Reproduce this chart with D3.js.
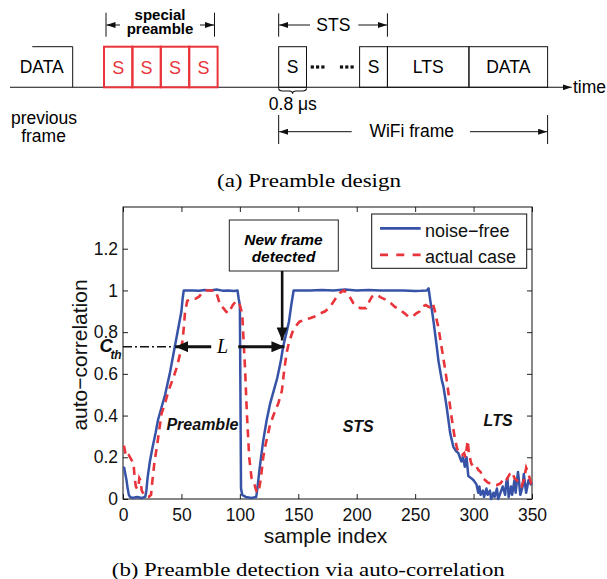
<!DOCTYPE html>
<html>
<head>
<meta charset="utf-8">
<script src="https://cdn.jsdelivr.net/npm/d3@7"></script>
<style>
  body { margin: 0; background: #fff; }
  text { font-family: "Liberation Sans", Arial, Helvetica, sans-serif; }
</style>
</head>
<body>
<div class="chart"></div>
<script>
// ---------------- chart values ----------------
// noise-free curve
var blueX = [0,1,2,3,4,5,6,8,12,16,19,20,21,23,25,28,30,33,36,38,40,42,44,46,48,50,51,52,56,60,65,70,75,80,85,90,95,98,99,100,100.5,101,102,105,110,114,115,117,120,123,126,129,132,135,137,140,142,144,146,150,160,170,180,190,200,210,220,230,240,250,255,260,261.5,263,264.5,266,268.5,270,272.8,274.2,277,280,282.7,285,287,289.5,291,292.5,294,295.5,298,300,302.5,304,305,306,308,309,311,312,314,315,317,318,320,321,323,325,327,328,329,330,332,333,335,336,338,339,340,342,343,345,347,349,350];
var blueY = [0.15,0.15,0.12,0.09,0.05,0.02,0.01,0.005,0.01,0.005,0.01,0.04,0.1,0.18,0.24,0.32,0.38,0.44,0.5,0.55,0.6,0.66,0.72,0.78,0.84,0.9,0.96,1.0,1.0,1.0,0.998,1.002,1.0,1.004,0.999,1.0,0.997,1.0,0.96,0.93,0.5,0.05,0.02,0.01,0.005,0.01,0.05,0.15,0.28,0.38,0.46,0.52,0.58,0.66,0.73,0.8,0.85,0.93,1.0,1.0,1.0,1.002,1.0,1.005,1.0,1.002,1.0,1.0,1.0,0.997,0.998,1.0,1.01,0.95,0.9,0.84,0.73,0.66,0.57,0.54,0.44,0.315,0.25,0.23,0.22,0.18,0.2,0.155,0.2,0.11,0.1,0.09,0.07,0.03,0.06,0.02,0.04,0.01,0.05,0.02,0.04,0.0,0.03,0.01,0.05,0.0,0.03,0.06,0.02,0.08,0.1,0.01,0.06,0.02,0.09,0.03,0.13,0.08,0.02,0.06,0.12,0.03,0.09,0.07,0.08];

// actual case curve
var redX = [0,1,2,3,5,7,9,10,11,12,13,14,15,16,18,20,22,24,25,27,29,31,33,36,39,43,46,49,51,52,53,55,58,62,65,68,71,75,79,81,83,86,88,90,92,94,97,100,102,103,104.5,106,108,110,112,114,116,118,120,122,126,130,133,136,138,140,142,145,148,151,156,160,164,169,173,177,180,183,186,189,193,197,200,203,208,211,213,217,221,225,229,233,237,241,244,248,251,254,257,259,262,265,267,268,270,272,274,276,278,280,282,284,286,288,290,292,293,295,296,298,300,302,304,306,308,310,312,314,317,320,323,325,327,329,331,333,335,337,339,341,343,345,347,349,350];
var redY = [0.25,0.25,0.22,0.2,0.21,0.19,0.17,0.1,0.06,0.05,0.05,0.1,0.09,0.04,0.02,0.01,0.01,0.02,0.08,0.18,0.25,0.33,0.41,0.46,0.52,0.58,0.63,0.7,0.76,0.82,0.89,0.95,0.96,0.96,0.97,0.99,1.0,1.0,1.0,0.97,0.93,0.915,0.9,0.89,0.91,0.93,0.95,0.93,0.89,0.78,0.62,0.41,0.2,0.1,0.08,0.04,0.03,0.1,0.2,0.26,0.36,0.42,0.46,0.52,0.62,0.7,0.75,0.8,0.83,0.85,0.86,0.867,0.875,0.89,0.9,0.92,0.945,0.97,0.99,1.0,0.98,0.94,0.93,0.915,0.915,0.95,0.97,0.98,0.965,0.955,0.94,0.92,0.907,0.89,0.875,0.875,0.89,0.9,0.925,0.93,0.92,0.94,0.9,0.87,0.82,0.75,0.68,0.61,0.53,0.44,0.36,0.29,0.24,0.22,0.21,0.22,0.2,0.28,0.22,0.17,0.155,0.16,0.14,0.13,0.1,0.09,0.08,0.075,0.07,0.067,0.075,0.09,0.08,0.1,0.12,0.13,0.1,0.09,0.07,0.06,0.09,0.15,0.12,0.08,0.09];

var xTicks = [0, 50, 100, 150, 200, 250, 300, 350];
var yTicks = [0, 0.2, 0.4, 0.6, 0.8, 1, 1.2];
var seriesNames = ["noise\u2212free", "actual case"];
var cTh = 0.73;          // detection threshold
var lStart = 44.7, lEnd = 137.3;   // the two threshold crossings (L)

// preamble design (units of one short symbol, 0.8 us)
var preambleSlots = ["S", "S", "S", "S"];
var frameParts = [
  {label: "S",    t0: 6.15,  t1: 7.13},
  {label: "S",    t0: 9.0,   t1: 9.98},
  {label: "LTS",  t0: 9.98,  t1: 12.85},
  {label: "DATA", t0: 12.85, t1: 15.62}
];

var blueCol = "#3653a8", redCol = "#e8343a";

// ---------------- svg ----------------
var svgWidth = 607, svgHeight = 579;
var svg = d3.select(".chart").append("svg")
  .attr("width", svgWidth).attr("height", svgHeight);

var defs = svg.append("defs");
function marker(id, len, wid) {
  defs.append("marker").attr("id", id)
    .attr("markerUnits", "userSpaceOnUse")
    .attr("viewBox", `0 0 ${len} ${wid}`)
    .attr("refX", len).attr("refY", wid / 2)
    .attr("markerWidth", len).attr("markerHeight", wid)
    .attr("orient", "auto-start-reverse")
    .append("path").attr("d", `M0,0 L${len},${wid / 2} L0,${wid} Z`).attr("fill", "#111");
}
marker("ahs", 9, 6);
marker("ahb", 13, 11);

// ================= (a) preamble design =================
var diag = svg.append("g");
var t = d3.scaleLinear().domain([0, 4]).range([104, 217.6]);
var lineY = 87.3, boxTop = 46.7;

// timeline
diag.append("line").attr("x1", 10).attr("x2", 571.7).attr("y1", lineY).attr("y2", lineY)
  .attr("stroke", "#111").attr("stroke-width", 1.1).attr("marker-end", "url(#ahs)");
diag.append("text").attr("x", 573).attr("y", 92.5).attr("font-size", 17.5).text("time");

// previous frame (cut off)
diag.append("path").attr("d", `M32.3,${boxTop} H72.7 V${lineY}`).attr("fill", "none").attr("stroke", "#111");
diag.append("text").attr("x", 41.7).attr("y", 72.7).attr("text-anchor", "middle").attr("font-size", 17.5).text("DATA");
diag.append("text").attr("x", 44).attr("y", 124).attr("text-anchor", "middle").attr("font-size", 17.5).text("previous");
diag.append("text").attr("x", 43.5).attr("y", 141.7).attr("text-anchor", "middle").attr("font-size", 17.5).text("frame");

// special preamble boxes
diag.selectAll("rect.sp").data(preambleSlots).enter().append("rect").attr("class", "sp")
  .attr("x", (d, i) => t(i)).attr("y", boxTop)
  .attr("width", t(1) - t(0)).attr("height", lineY - boxTop)
  .attr("fill", "none").attr("stroke", redCol).attr("stroke-width", 2);
diag.selectAll("text.sp").data(preambleSlots).enter().append("text").attr("class", "sp")
  .attr("x", (d, i) => t(i + 0.5)).attr("y", 73.5).attr("text-anchor", "middle")
  .attr("font-size", 18).attr("fill", redCol).text(d => d);

// span marker: two bars with arrows pointing out to them
function span(g, x0, x1, y, ya, yb, tail0, tail1) {
  g.append("line").attr("x1", x0).attr("x2", x0).attr("y1", ya).attr("y2", yb).attr("stroke", "#111");
  g.append("line").attr("x1", x1).attr("x2", x1).attr("y1", ya).attr("y2", yb).attr("stroke", "#111");
  g.append("line").attr("x1", tail0).attr("x2", x0 + 0.5).attr("y1", y).attr("y2", y)
    .attr("stroke", "#111").attr("marker-end", "url(#ahs)");
  g.append("line").attr("x1", tail1).attr("x2", x1 - 0.5).attr("y1", y).attr("y2", y)
    .attr("stroke", "#111").attr("marker-end", "url(#ahs)");
}
span(diag, 106, 214.5, 25, 12.7, 36.7, 120, 200);
diag.append("text").attr("x", 160).attr("y", 19.5).attr("text-anchor", "middle")
  .attr("font-size", 15).attr("font-weight", "bold").text("special");
diag.append("text").attr("x", 160).attr("y", 34.3).attr("text-anchor", "middle")
  .attr("font-size", 15).attr("font-weight", "bold").text("preamble");

// wifi frame boxes
diag.selectAll("rect.wf").data(frameParts).enter().append("rect").attr("class", "wf")
  .attr("x", d => t(d.t0)).attr("y", boxTop)
  .attr("width", d => t(d.t1) - t(d.t0)).attr("height", lineY - boxTop)
  .attr("fill", "none").attr("stroke", "#111").attr("stroke-width", 1);
diag.selectAll("text.wf").data(frameParts).enter().append("text").attr("class", "wf")
  .attr("x", d => t((d.t0 + d.t1) / 2)).attr("y", 72.7).attr("text-anchor", "middle")
  .attr("font-size", 17.5).text(d => d.label);

// dots between the short symbols
var dotX = [312.3, 317.6, 322.9, 341.5, 346.8, 352.1];
diag.selectAll("rect.dot").data(dotX).enter().append("rect").attr("class", "dot")
  .attr("x", d => d - 1.6).attr("y", 65.4).attr("width", 3.2).attr("height", 3.2).attr("fill", "#111");

// STS span
span(diag, t(6.15), t(9.98), 25, 13.3, 36.7, 310, 358.3);
diag.append("text").attr("x", 333.3).attr("y", 30.5).attr("text-anchor", "middle").attr("font-size", 17.5).text("STS");

// brace + 0.8 us
var b0 = t(6.15), b1 = t(7.13), bm = (b0 + b1) / 2;
diag.append("path")
  .attr("d", `M${b0},88.3 Q${b0},91 ${b0 + 4},91 L${bm - 3.5},91 Q${bm},91 ${bm},93.8 Q${bm},91 ${bm + 3.5},91 L${b1 - 4},91 Q${b1},91 ${b1},88.3`)
  .attr("fill", "none").attr("stroke", "#111").attr("stroke-width", 1.1);
diag.append("text").attr("x", 292.8).attr("y", 110).attr("text-anchor", "middle").attr("font-size", 17.5).text("0.8 \u03bcs");

// WiFi frame span
span(diag, t(6.15), t(15.62), 131.7, 115, 144, 351.7, 470);
diag.append("text").attr("x", 411.7).attr("y", 137.3).attr("text-anchor", "middle").attr("font-size", 17.5).text("WiFi frame");

diag.append("text").attr("x", 309).attr("y", 186.7).attr("text-anchor", "middle")
  .attr("font-size", 19)
  .attr("textLength", 184).attr("lengthAdjust", "spacingAndGlyphs")
  .style("font-family", "'Liberation Serif', serif")
  .text("(a)  Preamble design");

// ================= (b) auto-correlation =================
var margin = {top: 207, right: 75, bottom: 80, left: 123};
var width = svgWidth - margin.left - margin.right;     // 409
var height = svgHeight - margin.top - margin.bottom;   // 292

var chartGroup = svg.append("g").attr("transform", `translate(${margin.left}, ${margin.top})`);

var xLinearScale = d3.scaleLinear().domain([0, 350]).range([0, width]);
var yLinearScale = d3.scaleLinear().domain([0, 1.4]).range([height, 0]);

// axes, matlab style ticks inward on all four sides
var bottomAxis = d3.axisBottom(xLinearScale).tickValues(xTicks).tickSizeInner(-5).tickSizeOuter(0).tickPadding(9.5);
var leftAxis = d3.axisLeft(yLinearScale).tickValues(yTicks).tickFormat(d3.format("")).tickSizeInner(-5).tickSizeOuter(0).tickPadding(5);
var topAxis = d3.axisTop(xLinearScale).tickValues(xTicks).tickSizeInner(-5).tickSizeOuter(0).tickFormat("");
var rightAxis = d3.axisRight(yLinearScale).tickValues(yTicks).tickSizeInner(-5).tickSizeOuter(0).tickFormat("");

chartGroup.append("g").attr("transform", `translate(0, ${height})`).call(bottomAxis);
chartGroup.append("g").call(leftAxis);
chartGroup.append("g").call(topAxis);
chartGroup.append("g").attr("transform", `translate(${width}, 0)`).call(rightAxis);
chartGroup.selectAll(".domain").remove();
chartGroup.selectAll(".tick line").attr("stroke", "#222");
chartGroup.selectAll(".tick text").attr("font-size", 17.5).attr("fill", "#111")
  .attr("font-family", "'Liberation Sans', Arial, sans-serif");

chartGroup.append("rect").attr("width", width).attr("height", height)
  .attr("fill", "none").attr("stroke", "#111").attr("stroke-width", 1);

// curves
var blueData = blueX.map((x, i) => ({x: x, y: blueY[i]}));
var redData = redX.map((x, i) => ({x: x, y: redY[i]}));
var line = d3.line().x(d => xLinearScale(d.x)).y(d => yLinearScale(d.y));

chartGroup.append("path").datum(blueData).attr("d", line)
  .attr("fill", "none").attr("stroke", blueCol).attr("stroke-width", 2.5).attr("stroke-linejoin", "round");
chartGroup.append("path").datum(redData).attr("d", line)
  .attr("fill", "none").attr("stroke", redCol).attr("stroke-width", 2.6)
  .attr("stroke-dasharray", "8,6");

// threshold dash-dot line and L arrows
var yTh = yLinearScale(cTh);
chartGroup.append("line").attr("x1", 0).attr("x2", xLinearScale(lStart) - 2).attr("y1", yTh).attr("y2", yTh)
  .attr("stroke", "#111").attr("stroke-width", 1.6).attr("stroke-dasharray", "9,3,2,3");
chartGroup.append("line").attr("x1", xLinearScale(75.5)).attr("x2", xLinearScale(lStart)).attr("y1", yTh).attr("y2", yTh)
  .attr("stroke", "#111").attr("stroke-width", 3).attr("marker-end", "url(#ahb)");
chartGroup.append("line").attr("x1", xLinearScale(98.6)).attr("x2", xLinearScale(lEnd) + 1).attr("y1", yTh).attr("y2", yTh)
  .attr("stroke", "#111").attr("stroke-width", 3).attr("marker-end", "url(#ahb)");
chartGroup.append("text").attr("x", xLinearScale(85.3)).attr("y", yTh + 6.5).attr("text-anchor", "middle")
  .attr("font-style", "italic").attr("font-size", 20)
  .style("font-family", "'Liberation Serif', serif").text("L");

// C_th label
var cLab = chartGroup.append("text").attr("x", -23.5).attr("y", yTh + 5)
  .attr("font-weight", "bold").attr("font-style", "italic").attr("font-size", 18.5).attr("fill", "#111");
cLab.append("tspan").text("C");
cLab.append("tspan").attr("dy", 7.5).attr("dx", -2.5).attr("font-size", 12).text("th");

// new frame detected box + arrow
var ann = chartGroup.append("g");
ann.append("rect").attr("x", 106.3).attr("y", 13).attr("width", 109).attr("height", 51)
  .attr("fill", "#fff").attr("stroke", "#222").attr("stroke-width", 1);
ann.append("text").attr("x", 160.5).attr("y", 37.5).attr("text-anchor", "middle")
  .attr("font-weight", "bold").attr("font-style", "italic").attr("font-size", 15.5).text("New frame");
ann.append("text").attr("x", 160.5).attr("y", 54.8).attr("text-anchor", "middle")
  .attr("font-weight", "bold").attr("font-style", "italic").attr("font-size", 15.5).text("detected");
ann.append("line").attr("x1", xLinearScale(136.2)).attr("x2", xLinearScale(136.2))
  .attr("y1", 64).attr("y2", yLinearScale(0.76))
  .attr("stroke", "#111").attr("stroke-width", 2.6).attr("marker-end", "url(#ahb)");

// region labels
function regionLabel(x, y, s) {
  chartGroup.append("text").attr("x", xLinearScale(x)).attr("y", yLinearScale(y))
    .attr("text-anchor", "middle").attr("font-weight", "bold").attr("font-style", "italic")
    .attr("font-size", 16).attr("fill", "#111").text(s);
}
regionLabel(68, 0.33, "Preamble");
regionLabel(201.3, 0.32, "STS");
regionLabel(321, 0.35, "LTS");

// legend
var legend = chartGroup.append("g").attr("transform", `translate(${371.7 - margin.left}, ${214 - margin.top})`);
legend.append("rect").attr("width", 155).attr("height", 54.3)
  .attr("fill", "#fff").attr("stroke", "#111").attr("stroke-width", 1);
var legCols = [blueCol, redCol], legDash = [null, "8,8.3"];
seriesNames.forEach(function(name, i) {
  var ly = 14.3 + i * 26.5;
  legend.append("line").attr("x1", 8.3).attr("x2", 49).attr("y1", ly).attr("y2", ly)
    .attr("stroke", legCols[i]).attr("stroke-width", 2.7).attr("stroke-dasharray", legDash[i]);
  legend.append("text").attr("x", 53.3).attr("y", ly + 8.3).attr("font-size", 18).attr("fill", "#111").text(name);
});

// axis labels
svg.append("text").attr("transform", "translate(87, 355) rotate(-90)").attr("text-anchor", "middle")
  .attr("font-size", 21).attr("fill", "#111").text("auto\u2212correlation");
svg.append("text").attr("x", 325.5).attr("y", 543).attr("text-anchor", "middle")
  .attr("font-size", 21).attr("fill", "#111").text("sample index");

svg.append("text").attr("x", 308.3).attr("y", 576).attr("text-anchor", "middle")
  .attr("font-size", 19).attr("textLength", 393).attr("lengthAdjust", "spacingAndGlyphs")
  .style("font-family", "'Liberation Serif', serif")
  .text("(b)  Preamble detection via auto-correlation");
</script>
</body>
</html>
